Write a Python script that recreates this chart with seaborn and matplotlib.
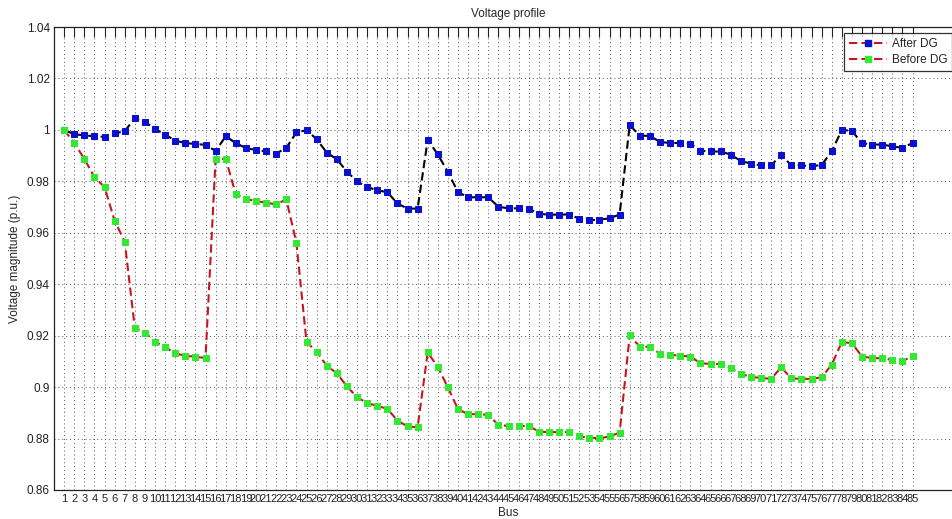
import matplotlib
matplotlib.use("Agg")
import matplotlib.pyplot as plt
from matplotlib.lines import Line2D
import seaborn as sns
import pandas as pd
import numpy as np

bus = list(range(1, 86))

after_dg = [
    1.0000, 0.9983, 0.9979, 0.9975, 0.9973, 0.9986, 0.9995, 1.0045, 1.0032, 1.0003,
    0.9982, 0.9958, 0.9949, 0.9945, 0.9942, 0.9918, 0.9975, 0.9949, 0.9929, 0.9922,
    0.9916, 0.9908, 0.9930, 0.9990, 0.9999, 0.9964, 0.9912, 0.9886, 0.9838, 0.9800,
    0.9778, 0.9765, 0.9758, 0.9714, 0.9694, 0.9694, 0.9961, 0.9905, 0.9836, 0.9758,
    0.9738, 0.9738, 0.9738, 0.9701, 0.9695, 0.9695, 0.9694, 0.9674, 0.9670, 0.9671,
    0.9671, 0.9655, 0.9649, 0.9651, 0.9656, 0.9671, 1.0019, 0.9977, 0.9977, 0.9953,
    0.9949, 0.9949, 0.9947, 0.9919, 0.9916, 0.9916, 0.9904, 0.9879, 0.9869, 0.9862,
    0.9862, 0.9903, 0.9862, 0.9862, 0.9858, 0.9864, 0.9916, 1.0000, 0.9996, 0.9949,
    0.9943, 0.9943, 0.9936, 0.9930, 0.9949,
]

before_dg = [
    1.0000, 0.9949, 0.9888, 0.9816, 0.9778, 0.9647, 0.9566, 0.9230, 0.9212, 0.9177,
    0.9156, 0.9131, 0.9122, 0.9118, 0.9113, 0.9886, 0.9888, 0.9749, 0.9732, 0.9723,
    0.9717, 0.9710, 0.9730, 0.9561, 0.9175, 0.9138, 0.9083, 0.9054, 0.9003, 0.8961,
    0.8938, 0.8927, 0.8916, 0.8870, 0.8847, 0.8844, 0.9135, 0.9078, 0.8999, 0.8914,
    0.8895, 0.8895, 0.8892, 0.8853, 0.8849, 0.8849, 0.8849, 0.8827, 0.8825, 0.8825,
    0.8825, 0.8808, 0.8804, 0.8801, 0.8808, 0.8823, 0.9201, 0.9157, 0.9157, 0.9130,
    0.9126, 0.9122, 0.9119, 0.9093, 0.9090, 0.9090, 0.9074, 0.9052, 0.9039, 0.9036,
    0.9032, 0.9077, 0.9034, 0.9032, 0.9032, 0.9038, 0.9087, 0.9175, 0.9171, 0.9119,
    0.9113, 0.9112, 0.9106, 0.9100, 0.9122,
]

y_ticks = [0.86, 0.88, 0.90, 0.92, 0.94, 0.96, 0.98, 1.00, 1.02, 1.04]
y_tick_labels = ["0.86", "0.88", "0.9", "0.92", "0.94", "0.96", "0.98", "1", "1.02", "1.04"]
series_names = ["After DG", "Before DG"]

sns.set_style("white")
plt.rcParams["font.family"] = ["Liberation Sans", "DejaVu Sans"]

df = pd.DataFrame({"Bus": bus, "After": after_dg, "Before": before_dg})

fig = plt.figure(figsize=(9.52, 5.19), dpi=100)
ax = fig.add_axes([54 / 952, 1 - 490 / 519, 909 / 952, 463 / 519])

blue = "#0a10d0"
green = "#33e833"
red = "#c8141e"

sns.lineplot(data=df, x="Bus", y="After", ax=ax, color="black", linewidth=1.5,
             marker="s", markersize=4.8, markerfacecolor=blue, markeredgecolor=blue,
             dashes=False, linestyle=(0, (4, 2)), legend=False)
sns.lineplot(data=df, x="Bus", y="Before", ax=ax, color=red, linewidth=1.5,
             marker="s", markersize=4.8, markerfacecolor=green, markeredgecolor=green,
             dashes=False, linestyle=(0, (4, 2)), legend=False)

ax.set_xlim(0, 90)
ax.set_ylim(0.86, 1.04)
ax.set_xticks(bus)
ax.set_xticklabels([str(b) for b in bus], fontsize=8)
ax.set_yticks(y_ticks)
ax.set_yticklabels(y_tick_labels, fontsize=8.5)
ax.tick_params(axis="both", direction="in", length=7, width=0.8, top=True, right=True,
               colors="#222222", pad=3)
ax.tick_params(axis="x", labelsize=8, pad=3)
ax.grid(True, color="#555555", linestyle=(0, (1, 3)), linewidth=0.7)
for s in ax.spines.values():
    s.set_color("#222222")
    s.set_linewidth(0.9)

ax.set_title("Voltage profile", fontsize=8.5, pad=7)
ax.set_xlabel("Bus", fontsize=8.5, labelpad=2)
ax.set_ylabel("Voltage magnitude (p.u.)", fontsize=8.5, labelpad=4)

handles = [
    Line2D([0], [0], color=red, linewidth=1.5, linestyle=(0, (4, 2)), marker="s",
           markersize=4.8, markerfacecolor=blue, markeredgecolor=blue),
    Line2D([0], [0], color=red, linewidth=1.5, linestyle=(0, (4, 2)), marker="s",
           markersize=4.8, markerfacecolor=green, markeredgecolor=green),
]
leg = ax.legend(handles, series_names, loc="upper right",
                bbox_to_anchor=(898 / 909, 1 - 6 / 463), fontsize=8.5,
                frameon=True, fancybox=False, handlelength=3.2, borderpad=0.4,
                labelspacing=0.4, handletextpad=0.4, borderaxespad=0)
leg.get_frame().set_edgecolor("black")
leg.get_frame().set_linewidth(0.9)

fig.savefig("out.png", dpi=100)
